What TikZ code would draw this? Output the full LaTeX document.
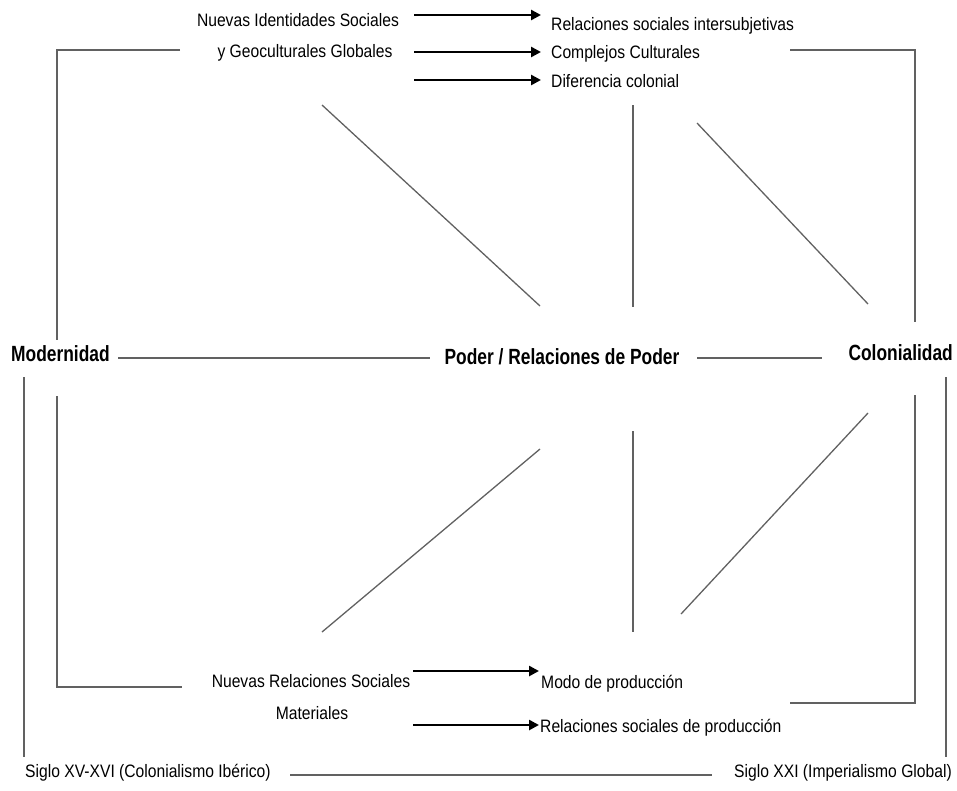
\documentclass[tikz,border=0pt]{standalone}
\usepackage{fontspec}
\setmainfont{Liberation Sans}[FakeStretch=0.87]
\newfontfamily\boldnarrow{Liberation Sans}[FakeStretch=0.79]
\usetikzlibrary{arrows.meta}
\begin{document}
\begin{tikzpicture}[x=1pt,y=-1pt,
  txt/.style={inner sep=0pt, font=\fontsize{18}{22}\selectfont},
  big/.style={inner sep=0pt, font=\boldnarrow\fontsize{22}{26}\selectfont\bfseries},
  ln/.style={draw=black!62, line width=1.3pt},
  arr/.style={draw=black, line width=2.5pt, -{Triangle[length=10pt,width=10pt]}}]
\useasboundingbox (0,0) rectangle (957,790);
% texts
\node[txt] (nis1) at (298,20) {Nuevas Identidades Sociales};
\node[txt] (nis2) at (305,53) {y Geoculturales Globales};
\node[txt, anchor=west] (rsi) at (551,26) {Relaciones sociales intersubjetivas};
\node[txt, anchor=west] (cc) at (551,54) {Complejos Culturales};
\node[txt, anchor=west] (dc) at (551,81) {Diferencia colonial};
\node[big, anchor=west] (mod) at (11,354) {Modernidad};
\node[big] (pod) at (562,357) {Poder / Relaciones de Poder};
\node[big, anchor=east] (col) at (953,353) {Colonialidad};
\node[txt] (nrs) at (311,681) {Nuevas Relaciones Sociales};
\node[txt] (mat) at (312,713) {Materiales};
\node[txt, anchor=west] (mp) at (541,684) {Modo de producción};
\node[txt, anchor=west] (rsp) at (540,728) {Relaciones sociales de producción};
\node[txt, anchor=west] (s1) at (25,773) {Siglo XV-XVI (Colonialismo Ibérico)};
\node[txt, anchor=east] (s2) at (952,773) {Siglo XXI (Imperialismo Global)};
% coordinates
\coordinate (a1s) at (414,15); \coordinate (a1e) at (541,15);
\coordinate (a2s) at (414,52); \coordinate (a2e) at (541,52);
\coordinate (a3s) at (414,80); \coordinate (a3e) at (541,80);
\coordinate (b1s) at (413,671); \coordinate (b1e) at (539,671);
\coordinate (b2s) at (413,725); \coordinate (b2e) at (539,725);
% arrows
\draw[arr] (a1s) -- (a1e);
\draw[arr] (a2s) -- (a2e);
\draw[arr] (a3s) -- (a3e);
\draw[arr] (b1s) -- (b1e);
\draw[arr] (b2s) -- (b2e);
% brackets
\coordinate (lt1) at (180,50); \coordinate (lt2) at (57,50); \coordinate (lt3) at (57,340);
\coordinate (rt1) at (790,50); \coordinate (rt2) at (915,50); \coordinate (rt3) at (915,322);
\coordinate (lb1) at (57,396); \coordinate (lb2) at (57,687); \coordinate (lb3) at (182,687);
\coordinate (rb1) at (915,395); \coordinate (rb2) at (915,703); \coordinate (rb3) at (790,703);
\coordinate (lo1) at (24,377); \coordinate (lo2) at (24,757);
\coordinate (ro1) at (946,377); \coordinate (ro2) at (946,757);
\draw[ln] (lt1) -- (lt2) -- (lt3);
\draw[ln] (rt1) -- (rt2) -- (rt3);
\draw[ln] (lb1) -- (lb2) -- (lb3);
\draw[ln] (rb1) -- (rb2) -- (rb3);
\draw[ln] (lo1) -- (lo2);
\draw[ln] (ro1) -- (ro2);
% horizontal lines
\coordinate (h1s) at (118,358); \coordinate (h1e) at (430,358);
\coordinate (h2s) at (697,358); \coordinate (h2e) at (822,358);
\coordinate (h3s) at (290,775); \coordinate (h3e) at (712,775);
\draw[ln] (h1s) -- (h1e);
\draw[ln] (h2s) -- (h2e);
\draw[ln] (h3s) -- (h3e);
% diagonals and verticals
\coordinate (d1s) at (322,105); \coordinate (d1e) at (540,306);
\coordinate (v1s) at (633,105); \coordinate (v1e) at (633,307);
\coordinate (d2s) at (697,123); \coordinate (d2e) at (868,304);
\coordinate (d3s) at (540,449); \coordinate (d3e) at (322,632);
\coordinate (v2s) at (633,431); \coordinate (v2e) at (633,632);
\coordinate (d4s) at (868,413); \coordinate (d4e) at (681,614);
\draw[ln] (d1s) -- (d1e);
\draw[ln] (v1s) -- (v1e);
\draw[ln] (d2s) -- (d2e);
\draw[ln] (d3s) -- (d3e);
\draw[ln] (v2s) -- (v2e);
\draw[ln] (d4s) -- (d4e);
\end{tikzpicture}
\end{document}
